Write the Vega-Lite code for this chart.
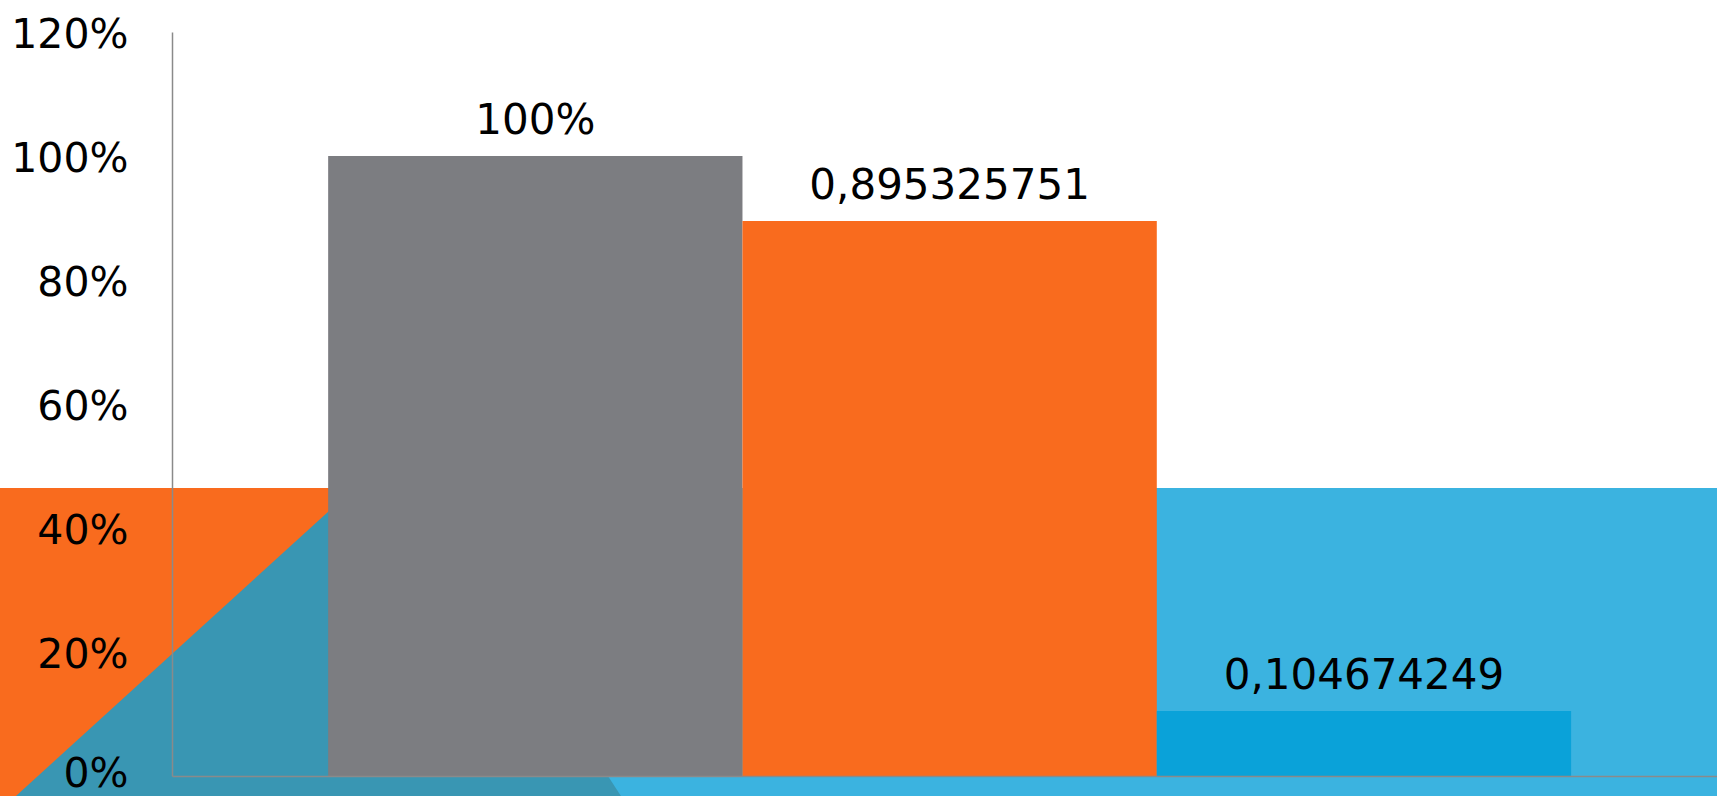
{
  "$schema": "https://vega.github.io/schema/vega-lite/v6.json",
  "width": 1545,
  "height": 744,
  "autosize": {"type": "none"},
  "padding": {"left": 172, "top": 32, "right": 0, "bottom": 20},
  "background": "#ffffff",
  "config": {"view": {"stroke": null}},
  "datasets": {
    "panels": [
      {"shape": "orange", "x": -0.12, "x2": 0.2123, "y": 0.4645, "y2": -0.04},
      {"shape": "lightblue", "x": 0.2123, "x2": 1.0, "y": 0.4645, "y2": -0.04}
    ],
    "wedge": [
      {"x": -0.1044, "y": -0.04, "yb": -0.04},
      {"x": 0.145, "y": 0.5258, "yb": -0.04},
      {"x": 0.2926, "y": -0.04, "yb": -0.04}
    ],
    "bars": [
      {"cat": "A", "value": 1.0, "label": "100%"},
      {"cat": "B", "value": 0.895325751, "label": "0,895325751"},
      {"cat": "C", "value": 0.104674249, "label": "0,104674249"}
    ]
  },
  "layer": [
    {
      "layer": [
        {
          "data": {"name": "panels"},
          "mark": {"type": "rect", "clip": false},
          "encoding": {
            "x": {"field": "x", "type": "quantitative", "scale": {"domain": [0, 1], "nice": false, "zero": false}, "axis": null},
            "x2": {"field": "x2"},
            "y": {"field": "y", "type": "quantitative", "scale": {"domain": [0, 1.2], "nice": false}},
            "y2": {"field": "y2"},
            "color": {"field": "shape", "type": "nominal", "scale": {"domain": ["orange", "lightblue"], "range": ["#F96B1E", "#3BB3E0"]}, "legend": null}
          }
        },
        {
          "data": {"name": "wedge"},
          "mark": {"type": "area", "clip": false, "color": "#3996B3", "orient": "vertical"},
          "encoding": {
            "x": {"field": "x", "type": "quantitative", "scale": {"domain": [0, 1], "nice": false, "zero": false}, "axis": null},
            "y": {"field": "y", "type": "quantitative", "scale": {"domain": [0, 1.2], "nice": false}},
            "y2": {"field": "yb"}
          }
        }
      ]
    },
    {
      "layer": [
        {
          "data": {"name": "bars"},
          "mark": {"type": "bar"},
          "encoding": {
            "x": {
              "field": "cat", "type": "nominal", "sort": null,
              "scale": {"paddingInner": 0, "paddingOuter": 0.3645, "align": 0.517},
              "axis": {"labels": false, "ticks": false, "title": null, "domainColor": "#8A8A8A", "domainWidth": 1.5, "zindex": 1}
            },
            "y": {
              "field": "value", "type": "quantitative",
              "scale": {"domain": [0, 1.2], "nice": false},
              "axis": {
                "format": ".0%", "values": [0, 0.2, 0.4, 0.6, 0.8, 1.0, 1.2],
                "grid": false, "ticks": false, "title": null,
                "labelFont": "DejaVu Sans", "labelFontSize": 41, "labelColor": "#000000",
                "labelBaseline": {"condition": {"test": "datum.value === 0", "value": "bottom"}, "value": "alphabetic"},
                "labelOffset": {"condition": {"test": "datum.value === 0", "value": 19}, "value": 15},
                "labelPadding": 44, "labelFlush": false, "labelOverlap": false,
                "domainColor": "#8A8A8A", "domainWidth": 1.5, "zindex": 1
              }
            },
            "color": {"field": "cat", "type": "nominal", "scale": {"domain": ["A", "B", "C"], "range": ["#7C7D81", "#F96B1E", "#0AA2D9"]}, "legend": null}
          }
        },
        {
          "data": {"name": "bars"},
          "mark": {"type": "text", "font": "DejaVu Sans", "fontSize": 42, "color": "#000000", "baseline": "alphabetic", "align": "center", "dy": -22},
          "encoding": {
            "x": {"field": "cat", "type": "nominal", "sort": null, "scale": {"paddingInner": 0, "paddingOuter": 0.3645, "align": 0.517}},
            "y": {"field": "value", "type": "quantitative", "scale": {"domain": [0, 1.2], "nice": false}},
            "text": {"field": "label", "type": "nominal"}
          }
        }
      ]
    }
  ],
  "resolve": {"scale": {"x": "independent", "y": "shared", "color": "independent"}}
}
